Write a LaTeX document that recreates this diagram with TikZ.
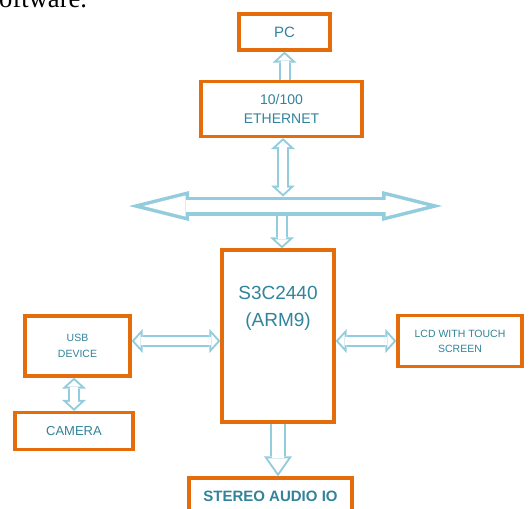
\documentclass[tikz,border=0pt]{standalone}
\usepackage{fontspec}
\setmainfont{Liberation Sans}
\newfontfamily\pagefont{Liberation Serif}
\usetikzlibrary{arrows.meta,positioning}
\definecolor{boxorange}{HTML}{E46C0A}
\definecolor{pipeblue}{HTML}{93CDDD}
\definecolor{labelblue}{HTML}{31849B}
\tikzset{
  block/.style = {draw=boxorange, line width=3.2pt, fill=white, inner sep=0pt,
    align=center, text=labelblue},% orange frame
  pipe/.style = {draw=pipeblue, line width=12pt,
    -{Triangle[width=24pt,length=11pt,line width=0pt]},
    postaction={draw=white, line width=8pt, shorten >=2.7pt,
      -{Triangle[width=13.7pt,length=6.3pt,line width=0pt]}}},% hollow, one head
  dpipe/.style = {draw=pipeblue, line width=12pt,
    {Triangle[width=24pt,length=11pt,line width=0pt]}-{Triangle[width=24pt,length=11pt,line width=0pt]},
    postaction={draw=white, line width=8pt, shorten >=2.7pt, shorten <=2.7pt,
      {Triangle[width=13.7pt,length=6.3pt,line width=0pt]}-{Triangle[width=13.7pt,length=6.3pt,line width=0pt]}}},% hollow, two heads
  outpipe/.style = {draw=pipeblue, line width=16pt,
    -{Triangle[width=28pt,length=20pt,line width=0pt]},
    postaction={draw=white, line width=12pt, shorten >=3.5pt,
      -{Triangle[width=20.3pt,length=14.5pt,line width=0pt]}}},% wide hollow, one head
  bus/.style = {draw=pipeblue, line width=19pt,
    {Triangle[width=30pt,length=60pt,line width=0pt]}-{Triangle[width=30pt,length=60pt,line width=0pt]},
    postaction={draw=white, line width=12pt, shorten >=14.4pt, shorten <=14.4pt,
      {Triangle[width=21pt,length=42.1pt,line width=0pt]}-{Triangle[width=21pt,length=42.1pt,line width=0pt]}}}% system bus
}

\begin{document}
\begin{tikzpicture}[x=1pt,y=-1pt]
\useasboundingbox (0,0) rectangle (529,508);
\clip (0,0) rectangle (529,508);

\node[anchor=base west, inner sep=0pt, font=\pagefont\fontsize{26.6}{30}\selectfont] (page) at (-1,7.5) {oftware.};

\node[block, minimum width=91pt, minimum height=36pt, font=\fontsize{15}{18}\selectfont] (pc) at (284.5,32) {PC};
\node[block, minimum width=161pt, minimum height=55pt, font=\fontsize{14}{19}\selectfont] (eth) at (281.5,109) {10/100\\ETHERNET};
\node[block, minimum width=112pt, minimum height=172pt] (arm) at (278,336) {};
\node[font=\fontsize{19}{27}\selectfont, text=labelblue, align=center, below=34pt of arm.north] (armtxt) {S3C2440\\(ARM9)};
\node[block, minimum width=105pt, minimum height=60pt, font=\fontsize{10.5}{16}\selectfont] (usb) at (77.5,346) {USB\\DEVICE};
\node[block, minimum width=118pt, minimum height=37pt, font=\fontsize{13}{16}\selectfont] (cam) at (74,431) {CAMERA};
\node[block, minimum width=124pt, minimum height=51pt, font=\fontsize{10.5}{15}\selectfont] (lcd) at (460,341) {LCD WITH TOUCH\\SCREEN};
\node[block, minimum width=163pt, minimum height=36pt, font=\bfseries\fontsize{15}{18}\selectfont] (audio) at (270.5,496) {STEREO AUDIO IO};

% bus
\coordinate (busl) at (129,206);
\coordinate (busr) at (442,206);
\coordinate (bustop) at (283,196.5);
\coordinate (busbot) at (282,215.5);
\draw[bus] (busl) -- (busr);

\draw[pipe] (pc.south |- eth.north) -- (pc.south);
\draw[dpipe] (bustop |- eth.south) -- (bustop);
\draw[pipe] (busbot) -- (busbot |- arm.north);
\draw[dpipe] (usb.east |- lcd.west) -- (arm.west |- lcd.west);
\draw[dpipe] (arm.east |- lcd.west) -- (lcd.west);
\draw[dpipe] (cam.north |- usb.south) -- (cam.north);
\draw[outpipe] (arm.south) -- (arm.south |- audio.north);
\end{tikzpicture}
\end{document}
